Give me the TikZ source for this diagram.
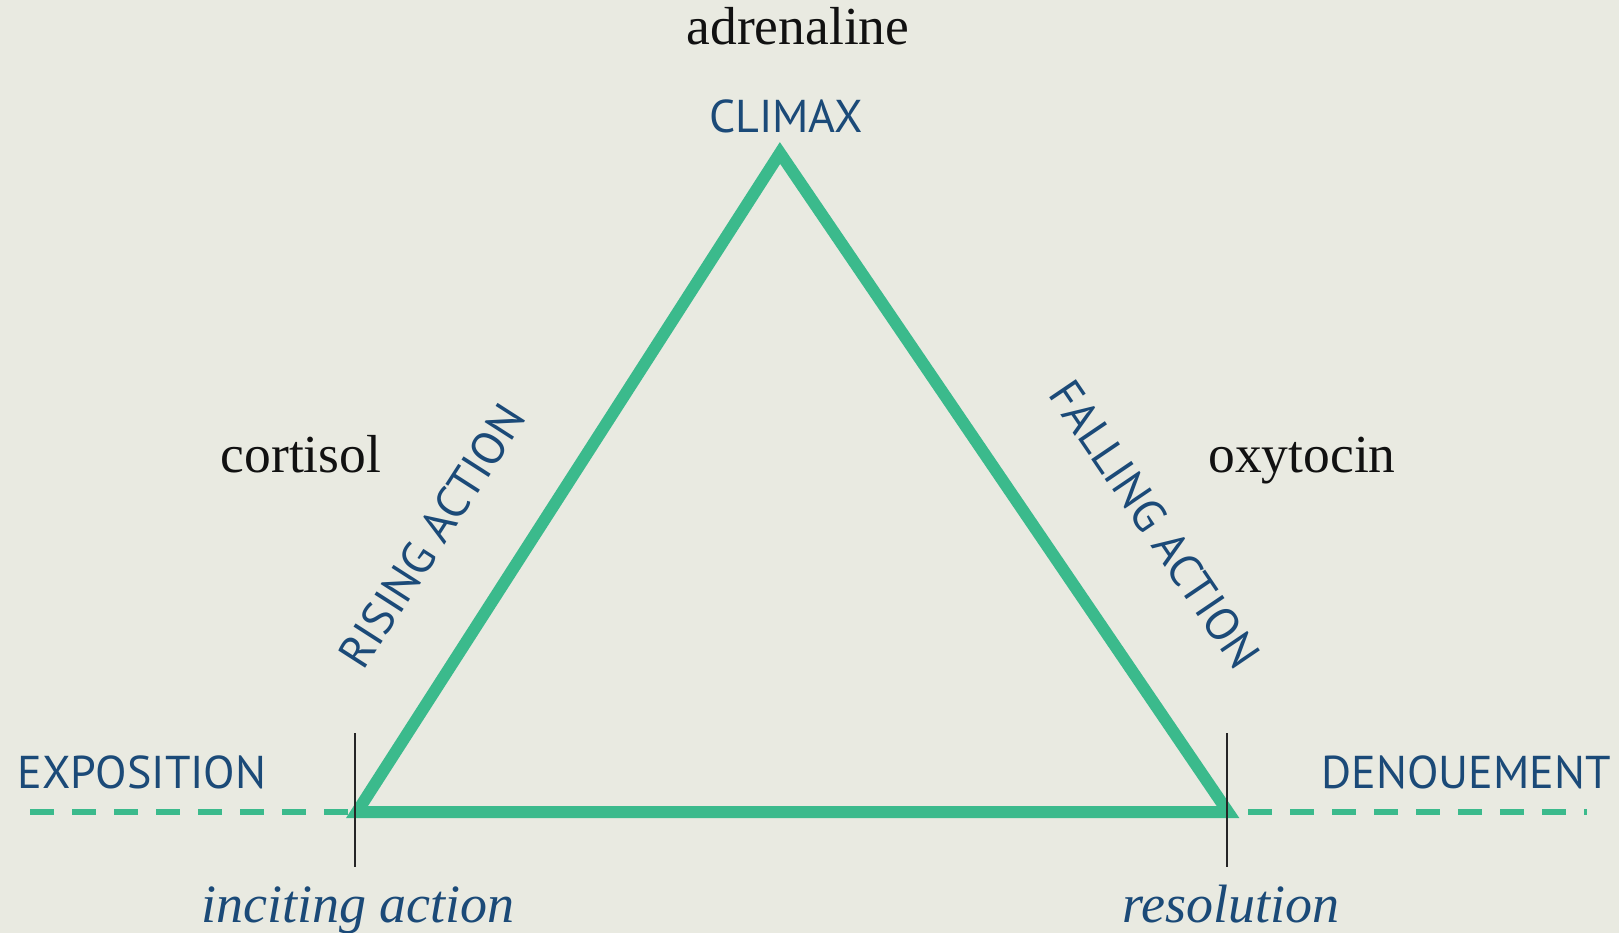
\documentclass[tikz,border=0pt]{standalone}
\usepackage{fontspec}
\setmainfont{Liberation Serif}
\newfontfamily\stagefont{PT Sans}
\usepackage{xcolor}
\definecolor{cBg}{HTML}{E9EAE1}
\definecolor{cArc}{HTML}{3BBA8C}
\definecolor{cInk}{HTML}{1B4A78}
\definecolor{cText}{HTML}{111111}
\usetikzlibrary{positioning}
\tikzset{
  label-stage/.style={inner sep=0pt,text=cInk,
    font=\stagefont\fontsize{46}{50}\selectfont},
  label-hormone/.style={inner sep=0pt,anchor=base,text=cText,
    font=\fontsize{53.5}{56}\selectfont},
  label-point/.style={inner sep=0pt,anchor=base,text=cInk,
    font=\itshape\fontsize{54}{56}\selectfont},
  line-arc/.style={draw=cArc,line width=12pt,line join=miter},
  line-dash/.style={draw=cArc,line width=6.5pt,dash pattern=on 24pt off 18pt},
  line-tick/.style={draw=black!85,line width=1.5pt},
}

\begin{document}
\begin{tikzpicture}[x=1pt,y=-1pt]
  \fill[cBg] (0,0) rectangle (1619,933);
  \useasboundingbox (0,0) rectangle (1619,933);

  % corners of the arc
  \coordinate (start) at (357,812);
  \coordinate (peak) at (780,153);
  \coordinate (end) at (1228,812);
  \coordinate (left-end) at (30,812);
  \coordinate (right-end) at (1587,812);

  % flat line under the whole arc
  \draw[line-dash] (left-end) -- (right-end);
  \draw[line-arc] (start) -- (peak) -- (end) -- cycle;

  % ticks at both ends of the base
  \coordinate (tick-a-top) at (355,733);
  \coordinate (tick-a-bot) at (355,867);
  \coordinate (tick-b-top) at (1227,733);
  \coordinate (tick-b-bot) at (1227,867);
  \draw[line-tick] (tick-a-top) -- (tick-a-bot);
  \draw[line-tick] (tick-b-top) -- (tick-b-bot);

  \node[label-stage,anchor=base] (climax) at (786,133) {CLIMAX};
  \node[label-stage,anchor=base west] (exposition) at (17.5,788) {EXPOSITION};
  \node[label-stage,anchor=base east] (denouement) at (1611,788) {DENOUEMENT};
  \node[label-stage,rotate=57.3] (rising) at (432,536) {RISING ACTION};
  \node[label-stage,rotate=-55.85] (falling) at (1155,524) {FALLING ACTION};

  \node[label-hormone] (adrenaline) at (798,45) {adrenaline};
  \node[label-hormone] (cortisol) at (301,472) {cortisol};
  \node[label-hormone] (oxytocin) at (1302,472) {oxytocin};

  \node[label-point] (inciting) at (358,922) {inciting action};
  \node[label-point] (resolution) at (1231,922) {resolution};
\end{tikzpicture}
\end{document}
